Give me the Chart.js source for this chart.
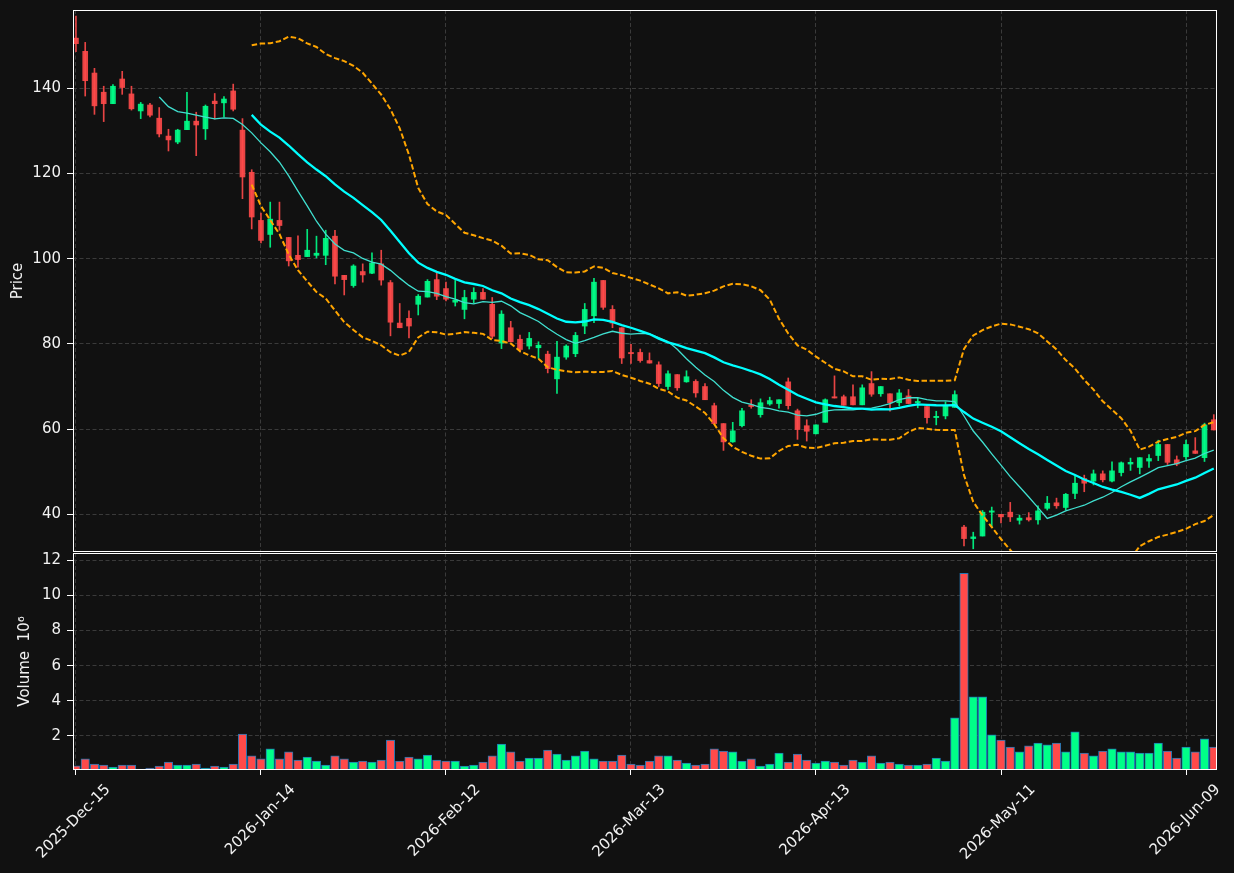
<!DOCTYPE html>
<html><head><meta charset="utf-8">
<script src="https://cdn.jsdelivr.net/npm/chart.js@4.4.1/dist/chart.umd.min.js"></script>
<style>
html,body{margin:0;padding:0;background:#111111;width:1234px;height:873px;overflow:hidden;}
canvas{position:absolute;left:0;}
#price{top:0;}
#vol{top:545px;}
</style></head><body>
<canvas id="price" width="1234" height="560"></canvas>
<canvas id="vol" width="1234" height="328"></canvas>
<script>
// ---- data ----
const xTickIndex = [0, 20, 40, 60, 80, 100, 120];
const xTickLabels = ['2025-Dec-15','2026-Jan-14','2026-Feb-12','2026-Mar-13','2026-Apr-13','2026-May-11','2026-Jun-09'];
const priceTicks = [40, 60, 80, 100, 120, 140];
const volumeTicks = [2, 4, 6, 8, 10, 12];

const opens = [151.8,148.7,143.6,139.1,136.4,142.2,138.7,134.7,136.1,133.0,
128.8,127.4,130.3,132.3,130.5,137.0,136.6,139.4,130.2,120.3,
109.0,105.7,109.0,105.0,100.8,100.5,100.8,100.8,105.3,96.1,
93.7,97.0,96.6,98.8,94.4,84.9,86.0,89.3,91.0,95.1,
93.0,89.8,88.1,90.5,92.1,89.3,80.2,83.8,81.1,79.5,
79.1,77.6,71.8,76.9,77.7,84.2,86.6,94.9,88.1,83.8,
78.0,78.0,76.1,75.1,70.0,72.8,71.1,71.2,70.0,65.5,
61.3,57.0,60.8,65.7,63.4,65.9,66.0,71.1,64.3,60.8,
58.9,61.6,67.6,67.6,67.6,65.7,70.7,68.3,68.3,66.2,
67.8,66.2,65.3,62.7,63.1,65.1,37.0,34.3,34.9,40.5,
40.0,40.5,38.6,39.2,38.7,41.4,42.7,41.6,44.9,48.4,
47.8,49.5,47.8,49.8,51.8,51.0,52.5,53.8,56.4,52.8,
53.5,54.9,53.3,62.2];
const highs = [157.0,150.8,144.7,140.5,140.9,144.0,140.5,136.7,136.5,135.5,
130.4,130.4,139.1,134.4,136.1,138.8,138.1,141.0,132.9,120.9,
110.7,113.3,113.3,105.0,105.4,106.9,105.3,106.7,106.7,96.1,
98.6,98.8,101.4,102.0,94.9,89.5,87.8,91.6,95.1,96.7,
94.5,94.9,92.6,93.2,93.0,90.9,87.8,85.3,82.1,82.7,
80.5,78.3,80.6,79.8,82.7,89.5,95.4,94.9,89.0,83.8,
79.9,78.8,77.9,75.8,73.7,72.8,73.7,71.6,70.7,66.1,
61.3,61.6,64.9,66.9,67.1,67.5,66.9,72.0,64.7,62.2,
61.0,67.1,72.5,68.0,70.4,70.4,73.5,70.0,68.3,69.3,
69.3,67.3,65.3,64.2,66.4,69.0,37.4,35.8,40.9,41.7,
40.0,42.8,39.8,40.4,42.0,44.2,43.8,44.9,48.9,49.2,
50.4,50.2,52.3,52.3,53.2,53.3,54.0,57.4,56.4,53.7,
57.4,58.0,61.4,63.4];
const lows = [148.6,138.2,133.9,132.2,136.4,138.6,134.9,132.9,133.3,128.6,
125.3,127.0,130.3,124.2,128.0,132.8,133.3,134.7,114.1,107.0,
103.7,102.7,106.7,98.3,98.0,100.5,100.2,98.6,94.1,91.5,
93.3,94.5,96.5,93.8,81.9,83.8,81.4,86.8,91.0,90.4,
90.1,88.9,85.9,89.6,90.5,81.25,78.9,80.5,78.1,78.8,
76.6,73.2,68.4,76.4,77.0,82.4,85.0,88.1,83.8,75.4,
75.4,75.7,75.5,70.0,69.3,69.1,71.0,67.5,66.9,61.3,
55.0,56.9,60.5,64.9,62.8,65.6,64.9,64.7,57.6,57.2,
58.9,61.6,67.3,65.6,65.7,65.7,67.7,67.7,64.2,65.4,
66.0,65.0,61.4,61.0,62.4,65.1,32.6,31.9,34.9,37.1,
38.0,38.3,37.7,38.4,37.7,41.0,41.4,41.0,43.7,45.3,
46.9,47.6,47.6,49.0,50.3,49.5,51.0,52.6,51.7,51.4,
52.9,54.3,52.4,59.8];
const closes = [150.5,141.8,135.9,136.4,140.5,140.2,135.2,136.3,133.7,129.3,
127.9,130.2,132.3,131.4,135.8,136.4,137.5,135.1,119.2,109.8,
104.3,109.3,107.8,99.5,99.8,102.0,101.3,104.8,95.9,95.1,
98.3,96.2,99.0,95.0,85.1,83.8,84.2,91.2,94.7,91.2,
90.5,90.3,90.9,92.1,90.5,81.8,87.0,80.5,78.7,81.3,
79.7,74.2,76.9,79.5,82.0,88.1,94.5,88.6,84.9,76.7,
77.7,76.1,75.5,70.7,73.0,69.7,72.3,68.5,66.9,61.3,
57.0,59.6,64.3,65.3,66.2,66.7,66.9,65.5,59.9,59.5,
61.0,66.9,67.3,65.6,65.7,69.7,68.2,70.0,66.2,68.5,
66.0,66.5,62.7,63.0,65.5,68.1,34.3,34.7,40.5,40.8,
39.4,39.4,39.1,38.7,40.8,42.6,42.0,44.7,47.3,47.3,
49.5,48.1,50.2,52.1,52.2,53.3,53.1,56.4,52.2,51.8,
56.4,54.3,61.0,59.8];
// volume in millions
const volumes = [0.30,0.69,0.40,0.34,0.23,0.34,0.34,0.11,0.17,0.29,
0.51,0.34,0.34,0.40,0.17,0.29,0.23,0.40,2.11,0.86,
0.69,1.26,0.69,1.09,0.63,0.80,0.57,0.34,0.86,0.69,
0.51,0.57,0.51,0.63,1.77,0.57,0.80,0.69,0.91,0.63,
0.57,0.57,0.29,0.34,0.51,0.86,1.54,1.09,0.57,0.74,
0.74,1.20,0.97,0.63,0.86,1.14,0.69,0.57,0.57,0.91,
0.40,0.34,0.57,0.86,0.86,0.63,0.46,0.34,0.40,1.26,
1.14,1.09,0.57,0.69,0.29,0.40,1.03,0.51,0.97,0.63,
0.46,0.57,0.51,0.34,0.63,0.51,0.86,0.46,0.51,0.40,
0.34,0.34,0.40,0.74,0.57,3.03,11.26,4.23,4.23,2.06,
1.77,1.37,1.09,1.43,1.60,1.49,1.60,1.09,2.23,1.03,
0.86,1.14,1.26,1.09,1.09,1.03,1.03,1.60,1.14,0.74,
1.37,1.09,1.83,1.37];

// ---- derived series (moving averages / Bollinger bands of the closes) ----
function sma(arr, n) {
  const out = [];
  for (let i = n - 1; i < arr.length; i++) {
    let s = 0; for (let k = i - n + 1; k <= i; k++) s += arr[k];
    out.push({x: i, y: s / n});
  }
  return out;
}
function bands(arr, n, m) {
  const up = [], lo = [];
  for (let i = n - 1; i < arr.length; i++) {
    let s = 0; for (let k = i - n + 1; k <= i; k++) s += arr[k];
    const mean = s / n;
    let v = 0; for (let k = i - n + 1; k <= i; k++) v += (arr[k] - mean) ** 2;
    const sd = Math.sqrt(v / n);
    up.push({x: i, y: mean + m * sd}); lo.push({x: i, y: mean - m * sd});
  }
  return {up, lo};
}
const ma10 = sma(closes, 10);
const ma20 = sma(closes, 20);
const bb = bands(closes, 20, 2);

// ---- styling ----
const UP = 'rgba(0,255,136,0.9)', DOWN = 'rgba(255,74,74,0.9)';
const UPV = '#00ff88', DOWNV = '#ff4a4a';
const GRID = '#3a3a3a';
const TXT = '#f2f2f2';
Chart.defaults.font.family = "'DejaVu Sans', sans-serif";
Chart.defaults.font.size = 15;
Chart.defaults.color = TXT;

const idx = closes.map((_, i) => i);
const isUp = idx.map(i => closes[i] >= opens[i]);
const candleCol = idx.map(i => isUp[i] ? UP : DOWN);
const volCol = idx.map(i => isUp[i] ? UPV : DOWNV);

const frame = {
  id: 'frame',
  afterDraw(chart) {
    const a = chart.chartArea, ctx = chart.ctx;
    ctx.save();
    ctx.strokeStyle = '#ffffff'; ctx.lineWidth = 1;
    ctx.strokeRect(Math.round(a.left) + 0.5, Math.round(a.top) + 0.5,
                   Math.round(a.right - a.left) - 1, Math.round(a.bottom - a.top) - 1);
    ctx.restore();
  }
};

function noPad(s) { s.paddingTop = 0; s.paddingBottom = 0; s.paddingLeft = 0; s.paddingRight = 0; }

const X_MIN = -0.32, X_MAX = 123.35;
function xScale(showLabels) {
  return {
    type: 'linear', min: X_MIN, max: X_MAX, offset: false,
    afterBuildTicks: s => { s.ticks = xTickIndex.map(v => ({value: v})); },
    afterFit: s => { s.height = showLabels ? 103 : 0; noPad(s); },
    grid: { color: GRID, lineWidth: 1, offset: false, drawTicks: showLabels, tickColor: '#ffffff', tickLength: 5, tickWidth: 1 },
    border: { display: false, dash: [4, 2.5] },
    ticks: {
      display: showLabels, autoSkip: false, minRotation: 45, maxRotation: 45,
      padding: 6, labelOffset: 32, color: TXT,
      callback: v => { const k = xTickIndex.indexOf(v); return k >= 0 ? xTickLabels[k] : ''; }
    }
  };
}
function yScale(min, max, ticks, title, titlePad) {
  return {
    type: 'linear', min, max,
    afterBuildTicks: s => { s.ticks = ticks.map(v => ({value: v})); },
    afterFit: s => { s.width = 73; noPad(s); },
    grid: { color: GRID, lineWidth: 1, drawTicks: true, tickColor: '#ffffff', tickLength: 6, tickWidth: 1 },
    border: { display: false, dash: [4, 2.5] },
    ticks: { padding: 6, color: TXT, callback: v => String(v) },
    title: { display: true, text: title, color: TXT, font: {size: 15}, padding: {top: titlePad, bottom: 0} }
  };
}

new Chart(document.getElementById('price'), {
  type: 'bar',
  data: {
    datasets: [
      { type: 'line', data: bb.up, borderColor: '#ffa500', borderWidth: 2, borderDash: [5.5, 2.6], pointRadius: 0, tension: 0, order: 0 },
      { type: 'line', data: bb.lo, borderColor: '#ffa500', borderWidth: 2, borderDash: [5.5, 2.6], pointRadius: 0, tension: 0, order: 0 },
      { type: 'line', data: ma20, borderColor: '#00ffff', borderWidth: 2.3, pointRadius: 0, tension: 0, order: 0 },
      { type: 'line', data: ma10, borderColor: '#40e0d0', borderWidth: 1.3, pointRadius: 0, tension: 0, order: 0 },
      { data: idx.map(i => ({x: i, y: [lows[i], highs[i]]})), backgroundColor: candleCol, barThickness: 1, grouped: false, order: 2 },
      { data: idx.map(i => ({x: i, y: [opens[i], closes[i]]})), backgroundColor: candleCol, barThickness: 5, grouped: false, order: 1 }
    ]
  },
  options: {
    responsive: false, animation: false, events: [],
    layout: { padding: { left: 0, right: 17, top: 10, bottom: 8 } },
    plugins: { legend: { display: false }, tooltip: { enabled: false } },
    scales: { x: xScale(false), y: yScale(31.15, 158.4, priceTicks, 'Price', 9.3) }
  },
  plugins: [frame]
});

new Chart(document.getElementById('vol'), {
  type: 'bar',
  data: {
    datasets: [
      { data: idx.map(i => ({x: i, y: volumes[i]})), backgroundColor: volCol, borderColor: '#1f77b4', borderWidth: 1, borderSkipped: false, barThickness: 8.5, grouped: false }
    ]
  },
  options: {
    responsive: false, animation: false, events: [],
    layout: { padding: { left: 0, right: 17, top: 8, bottom: 0 } },
    plugins: { legend: { display: false }, tooltip: { enabled: false } },
    scales: { x: xScale(true), y: yScale(0.06, 12.42, volumeTicks, 'Volume  10\u2076', 16) }
  },
  plugins: [frame]
});
</script>
</body></html>
